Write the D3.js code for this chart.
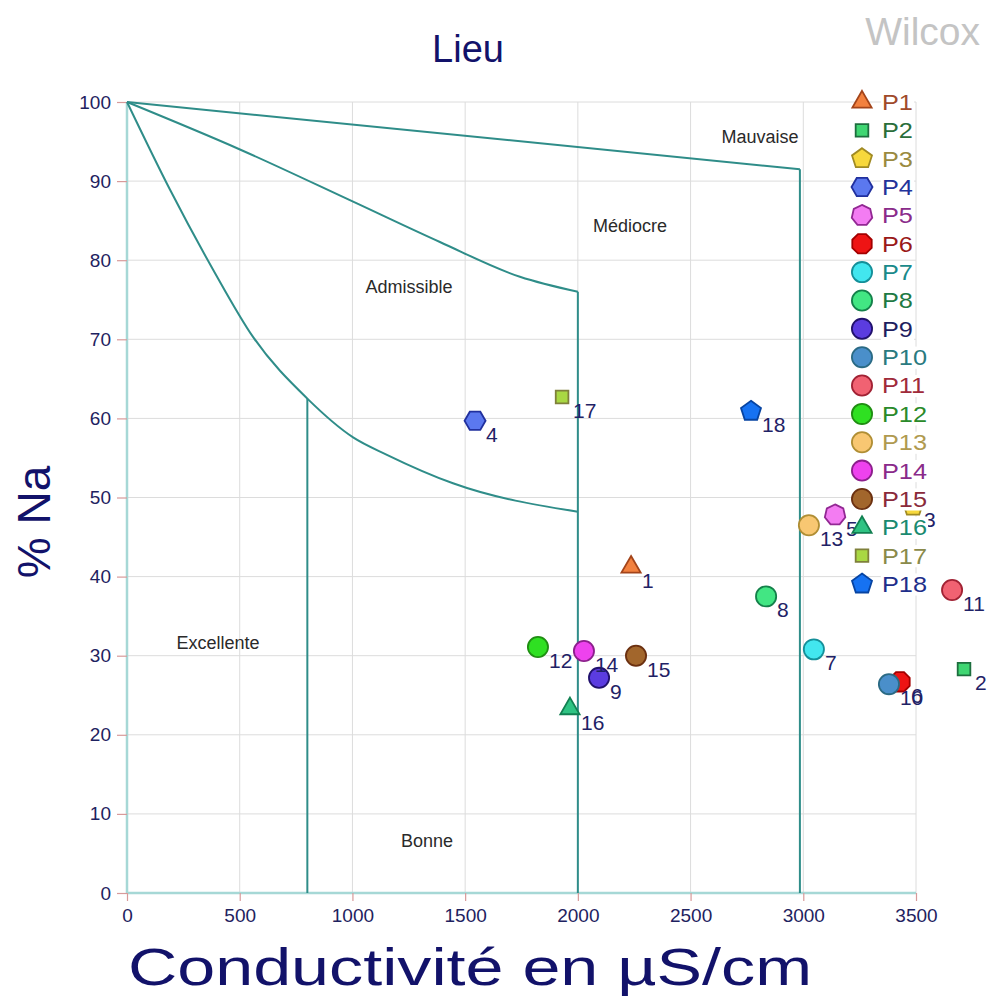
<!DOCTYPE html>
<html><head><meta charset="utf-8">
<script src="https://cdn.jsdelivr.net/npm/d3@7/dist/d3.min.js"></script>
<style>body{margin:0;background:#fff}svg{display:block;font-family:Arial,"Liberation Sans",sans-serif}</style>
</head><body>
<svg id="c" width="988" height="1005"></svg>
<script>
// ---- data ----
const names = ["P1","P2","P3","P4","P5","P6","P7","P8","P9","P10","P11","P12","P13","P14","P15","P16","P17","P18"];
const labels = ["1","2","3","4","5","6","7","8","9","10","11","12","13","14","15","16","17","18"];
const conductivity = [2236,3713,3487,1544,3141,3429,3047,2835,2094,3380,3660,1823,3025,2027,2258,1965,1930,2768];
const naPercent = [41.2,28.3,48.9,59.7,47.8,26.7,30.8,37.5,27.2,26.4,38.3,31.1,46.5,30.6,30.0,23.3,62.7,60.9];
const shapes = ["tri","sq","pent","hex","hept","oct","circ","circ","circ","circ","circ","circ","circ","circ","circ","tri","sq","pent"];
const fills = ["#f2813f","#3fd672","#f7d83c","#5b78ef","#f37cf2","#ee1414","#42e6ef","#42e683","#5b3ce0","#4a8fca","#f16272","#2fe022","#f8c772","#ee42ee","#a2662c","#2fc383","#a9d843","#1672f2"];
const strokes = ["#a3441a","#1d6e3e","#a08a23","#21309e","#922893","#a30000","#148f99","#14804a","#21116d","#2a6a84","#a12234","#1f8e12","#b08e34","#8c1f8c","#6b3010","#128052","#7f803b","#0744a2"];
const textColors = ["#a04a2a","#2a6e3a","#9a8a40","#23339a","#8a2b8a","#9a1818","#1a8a8a","#1e7a44","#1e1e60","#2a7a80","#a02a3a","#2a8a2a","#b09a50","#8a2a8a","#8a2a3a","#1a8a70","#8a8a4a","#1e2e8a"];
const xTicks = [0,500,1000,1500,2000,2500,3000,3500];
const yTicks = [0,10,20,30,40,50,60,70,80,90,100];
// Wilcox class boundaries
const lineMauvaise = [[0,100],[2985,91.5]];
const vertMauvaise = [[2985,91.5],[2985,0]];
const lineMediocre = [[0,100],[501,94.0],[1003,87.4],[1388,82.3],[1743,77.9],[2000,76.0]];
const vertMediocre = [[2000,76.0],[2000,0]];
const lineAdmissible = [[0,100],[191,88.9],[382,78.8],[559,70.3],[800,62.5],[1003,57.6],[1153,55.4],[1446,51.8],[2000,48.2]];
const vertBonne = [[800,62.5],[800,0]];
const zoneNames = ["Mauvaise","Médiocre","Admissible","Excellente","Bonne"];
const zoneX = [2808,2231,1251,404,1331];
const zoneY = [95.6,84.4,76.6,31.6,6.6];

// ---- drawing ----
const svg = d3.select("#c");
const x = d3.scaleLinear().domain([0,3500]).range([127,916]);
const y = d3.scaleLinear().domain([0,100]).range([893,102]);

// grid
const grid = svg.append("g");
grid.selectAll(".gx").data(xTicks.slice(1)).join("line")
  .attr("x1",d=>x(d)).attr("x2",d=>x(d)).attr("y1",y(0)).attr("y2",y(100))
  .attr("stroke","#dcdcdc").attr("stroke-width",1);
grid.selectAll(".gy").data(yTicks.slice(1)).join("line")
  .attr("x1",x(0)).attr("x2",x(3500)).attr("y1",d=>y(d)).attr("y2",d=>y(d))
  .attr("stroke","#dcdcdc").attr("stroke-width",1);

// axes
const xAxis = svg.append("g").attr("transform",`translate(0,${y(0)})`)
  .call(d3.axisBottom(x).tickValues(xTicks).tickFormat(d3.format("d")).tickSize(8).tickPadding(4));
const yAxis = svg.append("g").attr("transform",`translate(${x(0)},0)`)
  .call(d3.axisLeft(y).tickValues(yTicks).tickFormat(d3.format("d")).tickSize(10).tickPadding(6));
[xAxis,yAxis].forEach(a=>{
  a.select(".domain").attr("stroke","#a6d8d6").attr("stroke-width",2.5);
  a.selectAll(".tick line").attr("stroke","#d89a9a").attr("stroke-width",1.2);
  a.selectAll(".tick text").attr("fill","#1e2260").attr("font-size",19)
    .attr("font-family","Arial, 'Liberation Sans', sans-serif");
});
xAxis.selectAll(".tick text").attr("dy","0.9em");
yAxis.select(".domain").attr("d",`M0,${y(0)}V${y(100)}`);
xAxis.select(".domain").attr("d",`M${x(0)},0H${x(3500)}`);

// boundaries
const curve = d3.line().x(d=>x(d[0])).y(d=>y(d[1])).curve(d3.curveMonotoneX);
const straight = d3.line().x(d=>x(d[0])).y(d=>y(d[1]));
[[lineMauvaise,straight],[vertMauvaise,straight],[lineMediocre,curve],[vertMediocre,straight],[lineAdmissible,curve],[vertBonne,straight]].forEach(([l,g])=>{
  svg.append("path").attr("d",g(l)).attr("fill","none").attr("stroke","#2f8d89").attr("stroke-width",2);
});

// zone names
svg.selectAll(".zone").data(zoneNames).join("text")
  .attr("x",(d,i)=>x(zoneX[i])).attr("y",(d,i)=>y(zoneY[i])).attr("dy","0.35em")
  .attr("text-anchor","middle").attr("font-size",18).attr("fill","#2a2a2a").text(d=>d);

// marker path
function polyPath(n, r, start){
  const pts=[];
  for(let k=0;k<n;k++){const a=start+k*2*Math.PI/n;pts.push([r*Math.cos(a),r*Math.sin(a)]);}
  return "M"+pts.map(p=>p[0].toFixed(2)+","+p[1].toFixed(2)).join("L")+"Z";
}
function markerPath(s){
  switch(s){
    case "tri": return d3.symbol(d3.symbolTriangle,160)();
    case "sq": return d3.symbol(d3.symbolSquare,160)();
    case "pent": return polyPath(5,10.5,-Math.PI/2);
    case "hex": return polyPath(6,10.5,0);
    case "hept": return polyPath(7,10.5,-Math.PI/2);
    case "oct": return polyPath(8,10.5,Math.PI/8);
    default: return d3.symbol(d3.symbolCircle,320)();
  }
}

// points
const idx = d3.range(names.length);
svg.selectAll(".pt").data(idx).join("path")
  .attr("transform",i=>`translate(${x(conductivity[i])},${y(naPercent[i])})`)
  .attr("d",i=>markerPath(shapes[i]))
  .attr("fill",i=>fills[i]).attr("stroke",i=>strokes[i]).attr("stroke-width",1.8);
svg.selectAll(".pl").data(idx).join("text")
  .attr("x",i=>x(conductivity[i])+11).attr("y",i=>y(naPercent[i])+21)
  .attr("font-size",21).attr("fill","#1f2266").text(i=>labels[i]);

// legend
const leg = svg.append("g");
const rowY = d3.scaleLinear().domain([0,17]).range([102,584]);
idx.forEach(i=>{
  const g = leg.append("g").attr("transform",`translate(0,${rowY(i)})`);
  const tg = g.append("g").attr("transform","translate(882,0) scale(1.15,1)");
  const t = tg.append("text").attr("x",0).attr("y",0).attr("dy","0.36em")
    .attr("font-size",22).attr("fill",textColors[i]).text(names[i]);
  const bb = t.node().getBBox();
  tg.insert("rect","text").attr("x",bb.x-1).attr("y",bb.y+1).attr("width",bb.width+2).attr("height",bb.height-2).attr("fill","#fff");
  g.append("path").attr("transform","translate(862,0)").attr("d",markerPath(shapes[i]))
    .attr("fill",fills[i]).attr("stroke",strokes[i]).attr("stroke-width",1.8);
});

// titles
svg.append("text").attr("x",468).attr("y",62).attr("text-anchor","middle")
  .attr("font-size",38).attr("fill","#12126a").text("Lieu");
svg.append("text").attr("x",980).attr("y",45).attr("text-anchor","end")
  .attr("font-size",39).attr("fill","#c4c4c4").text("Wilcox");
svg.append("text").attr("x",128).attr("y",985).attr("textLength",684).attr("lengthAdjust","spacingAndGlyphs")
  .attr("font-size",52).attr("fill","#12126a").text("Conductivité en µS/cm");
svg.append("text").attr("transform","translate(50,522) rotate(-90)").attr("text-anchor","middle")
  .attr("font-size",46).attr("fill","#12126a").text("% Na");
</script>
</body></html>
